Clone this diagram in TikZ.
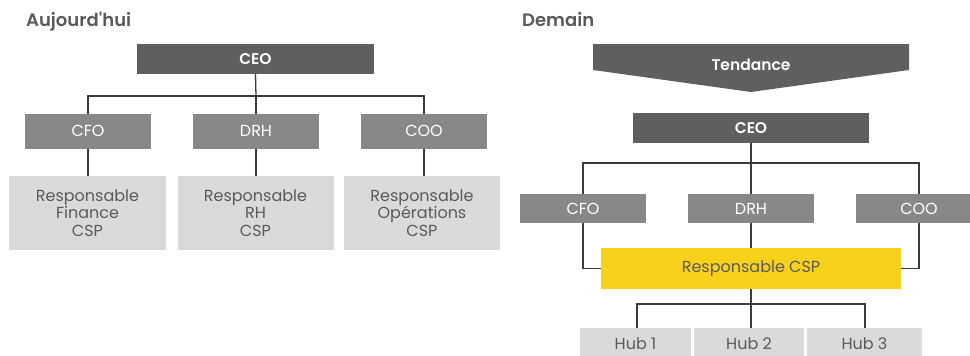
\documentclass[tikz,border=0pt]{standalone}
\usepackage{fontspec}
\setmainfont{Poppins}[Ligatures=TeXOff, BoldFont={Poppins SemiBold}]
\definecolor{ceogray}{HTML}{5E5F5E}
\definecolor{midgray}{HTML}{878887}
\definecolor{lightgray}{HTML}{D9DAD9}
\definecolor{csp}{HTML}{F8D11B}
\definecolor{txtgray}{HTML}{5A5A5A}
\definecolor{linegray}{HTML}{3A3A3A}
\tikzset{
  x=1pt, y=-1pt,
  box/.style={inner sep=0pt, outer sep=0pt, align=center},
  ceobox/.style={box, fill=ceogray, text=white, font=\fontsize{15.5}{17}\selectfont\bfseries},
  midbox/.style={box, fill=midgray, text=white, font=\fontsize{16}{17.5}\selectfont},
  lightbox/.style={box, fill=lightgray, text=txtgray, font=\fontsize{16}{17.5}\selectfont},
  cspbox/.style={box, fill=csp, text=txtgray, font=\fontsize{16}{17.5}\selectfont},
  title/.style={anchor=base west, inner sep=0pt, text=txtgray, font=\fontsize{18}{20}\selectfont\bfseries},
  conn/.style={draw=linegray, line width=1.3pt},
}
\begin{document}
\begin{tikzpicture}
\useasboundingbox (0,0) rectangle (970,356);
% ---------- Left: Aujourd'hui ----------
\node[title] (t1) at (26,27) {Aujourd'hui};
\node[ceobox, minimum width=237, minimum height=30] (ceo1) at (255.5,59) {CEO};
\node[midbox, minimum width=126, minimum height=35] (cfo1) at (88,131) {CFO};
\node[midbox, minimum width=126, minimum height=35] (drh1) at (256,131) {DRH};
\node[midbox, minimum width=126, minimum height=35] (coo1) at (424,131) {COO};
\node[lightbox, minimum width=157, minimum height=74] (r1) at (87.5,213) {Responsable\\Finance\\CSP};
\node[lightbox, minimum width=156, minimum height=74] (r2) at (255.5,213) {Responsable\\RH\\CSP};
\node[lightbox, minimum width=156, minimum height=74] (r3) at (422,213) {Responsable\\Opérations\\CSP};
\coordinate (j1) at (256,96);
\draw[conn] (ceo1.south) -- (j1);
\draw[conn] (cfo1.north) |- (j1) -| (coo1.north);
\draw[conn] (j1) -- (drh1.north);
\draw[conn] (cfo1.south) -- (r1.north -| cfo1.south);
\draw[conn] (drh1.south) -- (r2.north -| drh1.south);
\draw[conn] (coo1.south) -- (r3.north -| coo1.south);
% ---------- Right: Demain ----------
\node[title] (t2) at (522,27) {Demain};
\fill[ceogray] (593,44) -- (909,44) -- (909,70) -- (751,92) -- (593,70) -- cycle;
\node[text=white, font=\fontsize{15.5}{17}\selectfont\bfseries] (tend) at (751,65) {Tendance};
\node[ceobox, minimum width=236, minimum height=30] (ceo2) at (751,128) {CEO};
\node[midbox, minimum width=126, minimum height=29] (cfo2) at (583,208.5) {CFO};
\node[midbox, minimum width=126, minimum height=29] (drh2) at (751,208.5) {DRH};
\node[midbox, minimum width=126, minimum height=29] (coo2) at (919,208.5) {COO};
\node[cspbox, minimum width=300, minimum height=41] (csp) at (751,268.5) {Responsable CSP};
\node[lightbox, minimum width=111, minimum height=32] (h1) at (635.5,344) {Hub 1};
\node[lightbox, minimum width=110, minimum height=32] (h2) at (749,344) {Hub 2};
\node[lightbox, minimum width=115, minimum height=32] (h3) at (864.5,344) {Hub 3};
\coordinate (j2) at (751,163);
\draw[conn] (ceo2.south) -- (j2);
\draw[conn] (cfo2.north) |- (j2) -| (coo2.north);
\draw[conn] (j2) -- (drh2.north);
\draw[conn] (cfo2.south) |- (csp.west);
\draw[conn] (coo2.south) |- (csp.east);
\draw[conn] (drh2.south) -- (csp.north);
\coordinate (j3) at (751,304);
\draw[conn] (csp.south) -- (j3);
\draw[conn] (h1.north -| 637,0) |- (j3) -| (h3.north -| 865,0);
\draw[conn] (j3) -- (h2.north -| j3);
\end{tikzpicture}
\end{document}
